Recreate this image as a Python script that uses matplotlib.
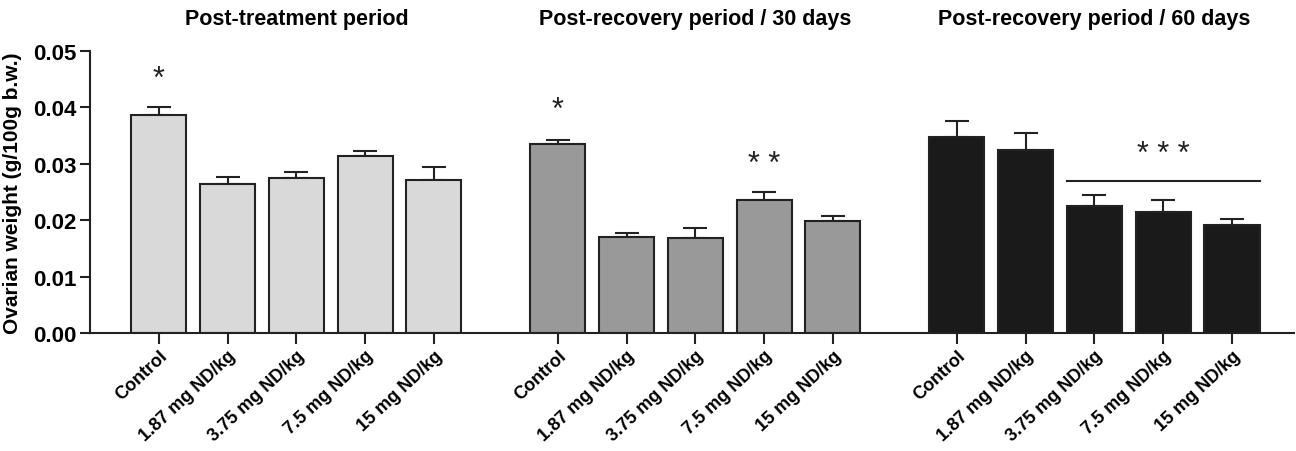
import numpy as np
import matplotlib
matplotlib.use("Agg")
import matplotlib.pyplot as plt

# data
doses = ["Control", "1.87 mg ND/kg", "3.75 mg ND/kg", "7.5 mg ND/kg", "15 mg ND/kg"]
periods = ["Post-treatment period", "Post-recovery period / 30 days",
           "Post-recovery period / 60 days"]

treat_mean = [0.0387, 0.0265, 0.0274, 0.0313, 0.0271]
treat_sem = [0.0014, 0.0011, 0.0012, 0.0010, 0.0023]
rec30_mean = [0.0335, 0.0171, 0.0169, 0.0235, 0.0198]
rec30_sem = [0.0008, 0.0006, 0.0018, 0.0015, 0.0009]
rec60_mean = [0.0347, 0.0325, 0.0226, 0.0214, 0.0191]
rec60_sem = [0.0028, 0.0029, 0.0019, 0.0021, 0.0012]

# significance marks: (group, bar index, y, text)
stars = [(0, 0, 0.0450, "*"), (1, 0, 0.0395, "*"), (1, 3, 0.0300, "* *"),
         (2, 3, 0.0318, "* * *")]

means = [treat_mean, rec30_mean, rec60_mean]
sems = [treat_sem, rec30_sem, rec60_sem]
colors = ["#d9d9d9", "#999999", "#1a1a1a"]
offsets = [0.0, 5.8, 11.6]
width = 0.8

plt.rcParams['font.family'] = ['Liberation Sans', 'DejaVu Sans']

fig = plt.figure(figsize=(12.96, 4.52), dpi=100)
ax = fig.add_axes([0.0694, 0.261, 0.929, 0.624])

ticks = []
labels = []
for g in range(3):
    x = np.arange(len(doses)) + offsets[g]
    err = [np.zeros(len(doses)), sems[g]]
    ax.errorbar(x, means[g], yerr=err, fmt='none', ecolor='#222222',
                elinewidth=1.5, capsize=8.5, capthick=1.5, zorder=1)
    ax.bar(x, means[g], width=width, color=colors[g], edgecolor='#222222',
           linewidth=1.5, zorder=2)
    ticks.extend(x)
    labels.extend(doses)
    ax.text(x.mean(), 1.115, periods[g], transform=ax.get_xaxis_transform(),
            ha='center', va='center', fontsize=15.5, fontweight='bold')

for g, i, y, s in stars:
    ax.text(offsets[g] + i, y, s, ha='center', va='center', fontsize=22,
            color='#222222')

# bar over the last three doses of the 60 day group
ax.plot([offsets[2] + 2 - width / 2, offsets[2] + 4 + width / 2], [0.0270, 0.0270],
        color='#222222', lw=1.5)

ax.set_xlim(-1.0, 16.5)
ax.set_ylim(0, 0.05)
ax.set_yticks([0.0, 0.01, 0.02, 0.03, 0.04, 0.05])
ax.set_yticklabels(["0.00", "0.01", "0.02", "0.03", "0.04", "0.05"],
                   fontsize=16, fontweight='bold')
ax.set_xticks(ticks)
ax.set_xticklabels(labels, rotation=43, ha='right', rotation_mode='anchor',
                   fontsize=13, fontweight='bold')
ax.set_ylabel("Ovarian weight (g/100g b.w.)", fontsize=15, fontweight='bold',
              labelpad=8)

for side in ['top', 'right']:
    ax.spines[side].set_visible(False)
for side in ['left', 'bottom']:
    ax.spines[side].set_linewidth(1.5)
    ax.spines[side].set_color('#222222')
ax.tick_params(axis='y', length=7, width=1.5, color='#222222', pad=3)
ax.tick_params(axis='x', length=8, width=1.5, color='#222222', pad=2)

fig.savefig("out.png", dpi=100)
